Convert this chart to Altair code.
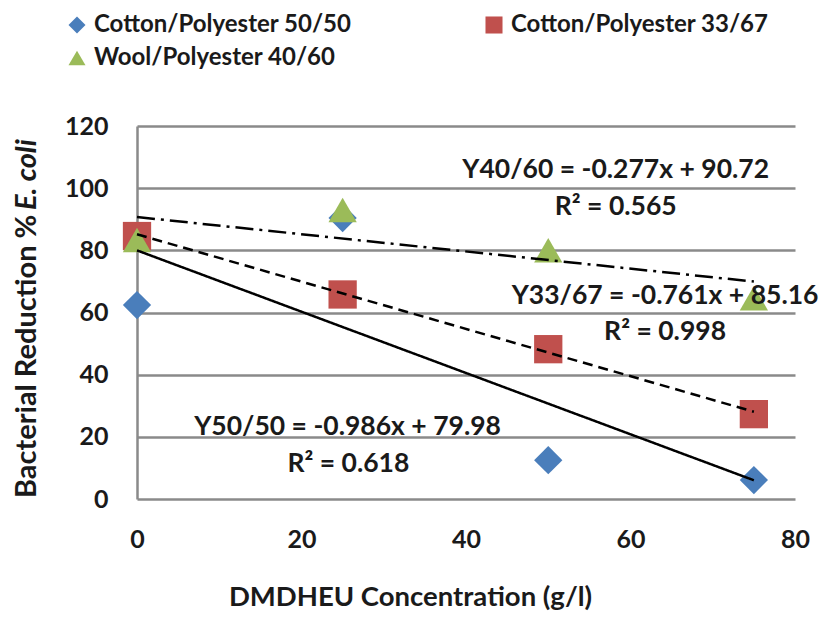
import altair as alt
import pandas as pd

# ---------------- data ----------------
series = ["Cotton/Polyester 50/50", "Cotton/Polyester 33/67", "Wool/Polyester 40/60"]
conc = [0, 25, 50, 75]
y_5050 = [62.4, 90.4, 12.5, 6.1]
y_3367 = [84.6, 65.8, 48.2, 27.3]
y_4060 = [83.3, 93.0, 80.0, 64.6]
slopes = [-0.986, -0.761, -0.277]
intercepts = [79.98, 85.16, 90.72]
fit_x = [0, 75]

eq_labels = ["Y50/50 = -0.986x + 79.98", "R² = 0.618",
             "Y33/67 = -0.761x + 85.16", "R² = 0.998",
             "Y40/60 = -0.277x + 90.72", "R² = 0.565"]
eq_x = [25.6, 25.7, 64.2, 64.2, 58.2, 58.2]
eq_y = [23.2, 11.3, 65.3, 53.7, 105.9, 94.0]

x_ticks = [0, 20, 40, 60, 80]
y_ticks = [0, 20, 40, 60, 80, 100, 120]

colors = ["#4A7EBB", "#C0504D", "#9BBB59"]
shapes = ["diamond", "square", "triangle-up"]
dashes = [[1, 0], [10, 6], [18, 6, 3, 6]]

FONT = "Lato"
TXT = "#1a1a1a"
GRID = "#8a8a8a"

rows = []
for s, ys in zip(series, [y_5050, y_3367, y_4060]):
    for xv, yv in zip(conc, ys):
        rows.append({"series": s, "x": xv, "y": yv, "order": series.index(s)})
pts = pd.DataFrame(rows)

fit_rows = []
for s, m, b in zip(series, slopes, intercepts):
    for xv in fit_x:
        fit_rows.append({"series": s, "x": xv, "y": m * xv + b})
fits = pd.DataFrame(fit_rows)

ann = pd.DataFrame({"x": eq_x, "y": eq_y, "text": eq_labels})

xscale = alt.Scale(domain=[0, 80], nice=False)
yscale = alt.Scale(domain=[0, 120], nice=False)

xaxis = alt.Axis(values=x_ticks, grid=False, domain=False, ticks=False, tickSize=0,
                 labelFlush=False,
                 labelFont=FONT, labelFontWeight="bold", labelFontSize=25, labelColor=TXT,
                 labelPadding=28, title="DMDHEU Concentration (g/l)", titleFont=FONT,
                 titleFontWeight="bold", titleFontSize=27.5, titleColor=TXT,
                 titleX=273, titleY=98, titleBaseline="middle", titleAlign="center")
yaxis = alt.Axis(values=y_ticks, grid=True, gridColor=GRID, gridWidth=2.5,
                 domain=True, domainColor=GRID, domainWidth=2.5, ticks=False, tickSize=0,
                 labelFlush=False,
                 labelFont=FONT, labelFontWeight="bold", labelFontSize=25, labelColor=TXT,
                 labelPadding=29, title=None)

points = alt.Chart(pts).mark_point(filled=True, opacity=1, size=800).encode(
    x=alt.X("x:Q", scale=xscale, axis=xaxis),
    y=alt.Y("y:Q", scale=yscale, axis=yaxis),
    color=alt.Color("series:N", scale=alt.Scale(domain=series, range=colors),
                    legend=alt.Legend(title=None, orient="none", legendX=-72, legendY=-113,
                                      direction="horizontal",
                                      columns=2, columnPadding=130, rowPadding=9,
                                      labelFont=FONT, labelFontWeight="bold",
                                      labelFontSize=24, labelColor=TXT, labelLimit=500,
                                      symbolSize=290, labelOffset=5, padding=0,
                                      symbolStrokeWidth=0)),
    shape=alt.Shape("series:N", scale=alt.Scale(domain=series, range=shapes)),
    order=alt.Order("order:Q"),
)

lines = alt.Chart(fits).mark_line(color="black", strokeWidth=2.5).encode(
    x="x:Q",
    y="y:Q",
    detail="series:N",
    strokeDash=alt.StrokeDash("series:N", scale=alt.Scale(domain=series, range=dashes),
                              legend=None),
)

texts = alt.Chart(ann).mark_text(font=FONT, fontWeight="bold", fontSize=26.5, color=TXT,
                                 align="center", baseline="middle").encode(
    x="x:Q", y="y:Q", text="text:N")

ytitle_a = alt.Chart(pd.DataFrame({"t": ["Bacterial Reduction % "]})).mark_text(
    font=FONT, fontWeight="bold", fontSize=29, color=TXT, angle=270,
    align="left", baseline="middle").encode(
    text="t:N", x=alt.value(-110), y=alt.value(372))
ytitle_b = alt.Chart(pd.DataFrame({"t": ["E. coli"]})).mark_text(
    font=FONT, fontWeight="bold", fontStyle="italic", fontSize=29, color=TXT, angle=270,
    align="left", baseline="middle").encode(
    text="t:N", x=alt.value(-110), y=alt.value(84))

chart = alt.layer(points, lines, texts, ytitle_a, ytitle_b).properties(
    width=658, height=373,
    autosize=alt.AutoSizeParams(type="none"),
    padding={"left": 129, "top": 118, "right": 25, "bottom": 115},
    background="white",
).configure_view(stroke=None)

chart.save("out.html", embed_options={"renderer": "svg", "actions": False})
